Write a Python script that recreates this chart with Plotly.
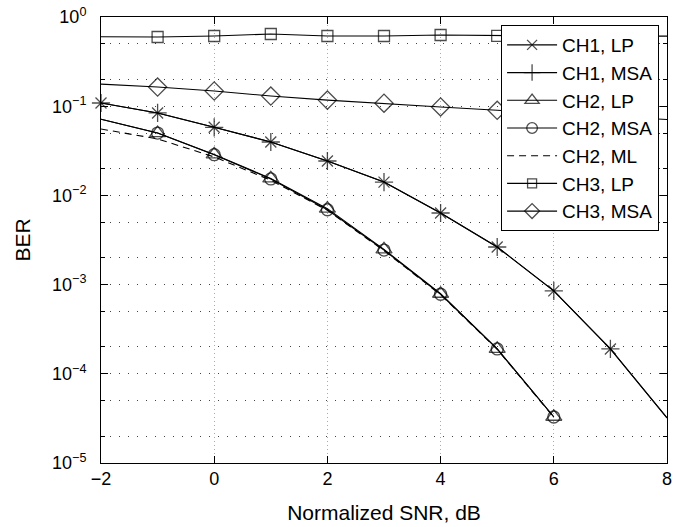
import plotly.graph_objects as go

# ---- data ----
snr_db = [-2, -1, 0, 1, 2, 3, 4, 5, 6, 7, 8]
snr_ch2 = [-2, -1, 0, 1, 2, 3, 4, 5, 6]

ch1_lp = [0.1086, 0.084, 0.058, 0.0397, 0.0243, 0.0141, 0.00635, 0.00264, 0.00085, 0.00019, 3.2e-5]
ch1_msa = [0.1086, 0.084, 0.058, 0.0397, 0.0243, 0.0141, 0.00635, 0.00264, 0.00085, 0.00019, 3.2e-5]
ch2_lp = [0.0713, 0.050, 0.0288, 0.0155, 0.0071, 0.00248, 0.00079, 0.00019, 3.3e-5]
ch2_msa = [0.0713, 0.050, 0.0286, 0.0153, 0.0069, 0.00244, 0.00078, 0.00019, 3.28e-5]
ch2_ml = [0.0555, 0.043, 0.027, 0.0148, 0.0068, 0.0024, 0.00077, 0.000188, 3.25e-5]
ch3_lp = [0.600, 0.597, 0.612, 0.645, 0.612, 0.612, 0.628, 0.615, 0.612, 0.61, 0.61]
ch3_msa = [0.177, 0.164, 0.148, 0.130, 0.117, 0.108, 0.098, 0.090, 0.083, 0.077, 0.071]

y_tickvals = [1e-5, 1e-4, 1e-3, 1e-2, 1e-1, 1]
y_ticktext = ["10<sup>−5</sup>", "10<sup>−4</sup>", "10<sup>−3</sup>",
              "10<sup>−2</sup>", "10<sup>−1</sup>", "10<sup>0</sup>"]
x_tickvals = [-2, 0, 2, 4, 6, 8]
x_ticktext = ["−2", "0", "2", "4", "6", "8"]

FONT = "Liberation Sans, Arial, Helvetica, sans-serif"

def msizes(xs, shown, s):
    return [s if x in shown else 0 for x in xs]

fig = go.Figure()

def add(name, xs, ys, symbol, size, shown, dash="solid"):
    fig.add_trace(go.Scatter(
        x=xs, y=ys, name=name, mode="lines+markers" if symbol else "lines",
        line=dict(color="black", width=1.1, dash=dash),
        marker=dict(symbol=symbol or "circle", size=msizes(xs, shown, size),
                    color="black",
                    line=dict(color="black", width=1.3)),
        cliponaxis=False,
    ))

add("CH1, LP", snr_db, ch1_lp, "x-thin-open", 11, range(-2, 8))
add("CH1, MSA", snr_db, ch1_msa, "cross-thin-open", 13, range(-2, 8))
add("CH2, LP", snr_ch2, ch2_lp, "triangle-up-open", 14, range(-1, 7))
add("CH2, MSA", snr_ch2, ch2_msa, "circle-open", 12, range(-1, 7))
add("CH2, ML", snr_ch2, ch2_ml, None, 0, [], dash="7px,5px")
add("CH3, LP", snr_db, ch3_lp, "square-open", 11, range(-1, 8))
add("CH3, MSA", snr_db, ch3_msa, "diamond-open", 14, range(-1, 8))

fig.update_layout(
    template="none",
    width=695, height=527,
    margin=dict(l=101, r=28, t=17, b=64, autoexpand=False),
    paper_bgcolor="white", plot_bgcolor="white",
    font=dict(family=FONT, size=18, color="black"),
    showlegend=True,
    legend=dict(
        x=0.986, y=0.982, xanchor="right", yanchor="top",
        bgcolor="white", bordercolor="black", borderwidth=1,
        font=dict(family=FONT, size=19, color="black"),
        tracegroupgap=0, itemwidth=50,
    ),
    xaxis=dict(
        range=[-2, 8], tickvals=x_tickvals, ticktext=x_ticktext,
        showline=True, linecolor="black", linewidth=1, mirror="ticks",
        ticks="inside", ticklen=7, tickcolor="black", automargin=False,
        ticklabelstandoff=-1,
        showgrid=True, gridcolor="#aaaaaa", griddash="1px,3px", gridwidth=1,
        zeroline=False,
        title=dict(text="Normalized SNR, dB", standoff=17,
                   font=dict(family=FONT, size=21)),
        tickfont=dict(family=FONT, size=18),
    ),
    yaxis=dict(
        type="log", range=[-5, 0], tickvals=y_tickvals, ticktext=y_ticktext,
        showline=True, linecolor="black", linewidth=1, mirror="ticks",
        ticks="inside", ticklen=7, tickcolor="black", automargin=False,
        ticklabelstandoff=10,
        showgrid=True, gridcolor="#444444", griddash="1px,8px", gridwidth=1,
        zeroline=False,
        minor=dict(ticks="inside", ticklen=4, tickcolor="black",
                   showgrid=True, gridcolor="#444444", griddash="1px,8px",
                   gridwidth=1),
        title=dict(text="BER", standoff=15, font=dict(family=FONT, size=21)),
        tickfont=dict(family=FONT, size=18),
    ),
)

fig.write_html("out.html", config={"displayModeBar": False},
               post_script="document.body.style.margin='0px';")
